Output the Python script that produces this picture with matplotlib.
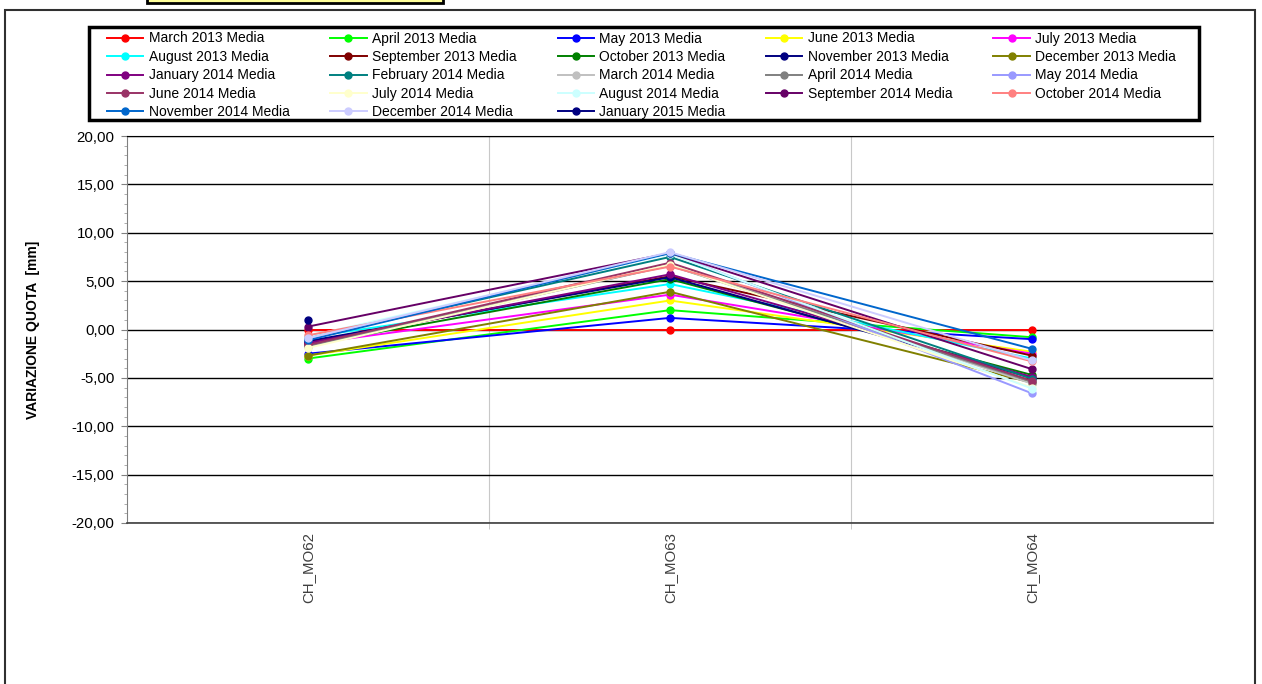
#!/usr/bin/env python3
# -*- coding: utf-8 -*-
"""Variazione quota per caposaldo, medie mensili"""

import matplotlib
matplotlib.use("Agg")
import matplotlib.pyplot as plt
from matplotlib.patches import Rectangle
from matplotlib.ticker import FuncFormatter, MultipleLocator, FixedLocator
import numpy as np

plt.rcParams['font.family'] = ['Liberation Sans', 'DejaVu Sans']

# dati
punti = ["CH_MO62", "CH_MO63", "CH_MO64"]

serie = [
    "March 2013 Media", "April 2013 Media", "May 2013 Media", "June 2013 Media",
    "July 2013 Media", "August 2013 Media", "September 2013 Media",
    "October 2013 Media", "November 2013 Media", "December 2013 Media",
    "January 2014 Media", "February 2014 Media", "March 2014 Media",
    "April 2014 Media", "May 2014 Media", "June 2014 Media", "July 2014 Media",
    "August 2014 Media", "September 2014 Media", "October 2014 Media",
    "November 2014 Media", "December 2014 Media", "January 2015 Media",
]

colori = [
    "#FF0000", "#00FF00", "#0000FF", "#FFFF00", "#FF00FF", "#00FFFF",
    "#800000", "#008000", "#000080", "#808000", "#800080", "#008080",
    "#C0C0C0", "#808080", "#9999FF", "#993366", "#FFFFCC", "#CCFFFF",
    "#660066", "#FF8080", "#0066CC", "#CCCCFF", "#000080",
]

mar13 = [0.0, 0.0, 0.0]
apr13 = [-3.0, 2.0, -0.8]
mag13 = [-2.5, 1.2, -1.0]
giu13 = [-2.7, 3.0, -2.3]
lug13 = [-1.5, 3.6, -2.5]
ago13 = [-0.8, 4.7, -3.0]
set13 = [-1.3, 5.5, -2.7]
ott13 = [-1.6, 5.2, -4.7]
nov13 = [-1.2, 5.4, -5.0]
dic13 = [-2.7, 3.9, -5.5]
gen14 = [-1.4, 5.7, -4.9]
feb14 = [-0.9, 7.5, -5.1]
mar14 = [-1.8, 6.8, -5.6]
apr14 = [-1.7, 6.6, -5.4]
mag14 = [-1.0, 7.9, -6.6]
giu14 = [-1.6, 6.9, -5.3]
lug14 = [-1.9, 6.7, -6.0]
ago14 = [-0.7, 7.8, -6.1]
set14 = [0.3, 7.9, -4.1]
ott14 = [-0.6, 6.5, -3.3]
nov14 = [-1.1, 7.9, -2.0]
dic14 = [-0.9, 8.0, -3.2]
gen15 = [1.0, np.nan, np.nan]

valori = [mar13, apr13, mag13, giu13, lug13, ago13, set13, ott13, nov13,
          dic13, gen14, feb14, mar14, apr14, mag14, giu14, lug14, ago14,
          set14, ott14, nov14, dic14, gen15]

W, H = 1262, 684
fig = plt.figure(figsize=(W / 100, H / 100), dpi=100)
ax = fig.add_axes([127 / W, 1 - 523 / H, (1213 - 127) / W, (523 - 136) / H])

x = np.arange(len(punti))
linee = []
for nome, col, val in zip(serie, colori, valori):
    l, = ax.plot(x, val, color=col, lw=1.4, marker='o', ms=5, label=nome)
    linee.append(l)

ax.set_xlim(-0.5, len(punti) - 0.5)
ax.set_ylim(-20, 20)

# asse y
ax.yaxis.set_major_locator(MultipleLocator(5))
ax.yaxis.set_minor_locator(MultipleLocator(1))
ax.yaxis.set_major_formatter(FuncFormatter(lambda v, p: f"{v:.2f}".replace('.', ',')))
ax.tick_params(axis='y', which='major', length=4, color='#808080', labelsize=10.8, pad=5)
ax.tick_params(axis='y', which='minor', length=2.5, color='#a0a0a0')
ax.grid(True, axis='y', which='major', color='black', lw=1)
ax.set_ylabel("VARIAZIONE QUOTA  [mm]", fontsize=10, fontweight='bold', labelpad=23)

# asse x
ax.set_xticks(x)
ax.set_xticklabels(punti, rotation=90, va='top', color='#404040', fontsize=10.8)
ax.tick_params(axis='x', which='major', length=0, pad=6.5)
ax.xaxis.set_minor_locator(FixedLocator([0.5, 1.5]))
ax.tick_params(axis='x', which='minor', length=4, color='#c0c0c0')
ax.grid(True, axis='x', which='minor', color='#c8c8c8', lw=0.8)
ax.set_axisbelow(True)

ax.spines['left'].set_color('#808080')
ax.spines['right'].set_color('#d9d9d9')
ax.spines['top'].set_color('black')
ax.spines['bottom'].set_color('#404040')
ax.spines['bottom'].set_linewidth(1.2)

# legenda: ordine per righe come nell'originale, cornice disegnata a parte
ncol = 5
nrow = int(np.ceil(len(linee) / ncol))
ordine = [r * ncol + c for c in range(ncol) for r in range(nrow) if r * ncol + c < len(linee)]
leg = fig.legend([linee[i] for i in ordine], [serie[i] for i in ordine],
                 loc='upper left', mode='expand',
                 bbox_to_anchor=(107 / W, 1 - 120 / H, (1176 - 107) / W, (120 - 31.5) / H),
                 ncol=ncol, fontsize=10, frameon=False,
                 handlelength=2.6, handletextpad=0.4, columnspacing=1.0,
                 labelspacing=0.32, borderpad=0, borderaxespad=0)
fig.add_artist(Rectangle((89 / W, 1 - 120 / H), (1199 - 89) / W, (120 - 27) / H,
                         transform=fig.transFigure, fill=False,
                         edgecolor='black', lw=2.5))

# cornice esterna e riquadro titolo
fig.add_artist(Rectangle((5 / W, -0.05), (1255 - 5) / W, 1 - 10 / H + 0.05,
                         transform=fig.transFigure, fill=False,
                         edgecolor='#303030', lw=1.5, clip_on=False))
fig.add_artist(Rectangle((147 / W, 1 - 3 / H), (443 - 147) / W, 0.05,
                         transform=fig.transFigure, facecolor='#FFFF99',
                         edgecolor='black', lw=2, clip_on=False))

fig.savefig("out.png", dpi=100)
plt.close(fig)
